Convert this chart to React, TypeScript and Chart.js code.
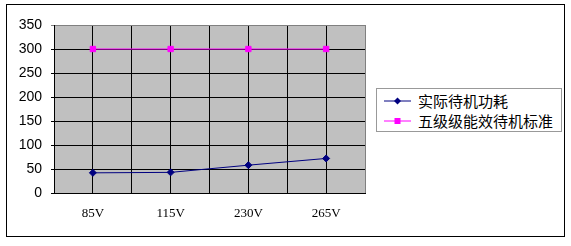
import React, { useEffect, useRef } from "react";
import { Chart, registerables } from "chart.js";

Chart.register(...registerables);

const categories = ["85V", "115V", "230V", "265V"];
const actualStandby = [42, 43, 58, 72];
const level5Standard = [300, 300, 300, 300];
const seriesNames = ["实际待机功耗", "五级级能效待机标准"];
const yTicks = { min: 0, max: 350, step: 50 };

const NAVY = "#000080";
const MAGENTA = "#FF00FF";

const plotBg = {
  id: "plotBg",
  beforeDraw(chart: any) {
    const { ctx, chartArea } = chart;
    ctx.save();
    ctx.fillStyle = "#C0C0C0";
    ctx.fillRect(chartArea.left, chartArea.top, chartArea.right - chartArea.left, chartArea.bottom - chartArea.top);
    ctx.restore();
  },
};

export default function App() {
  const ref = useRef<HTMLCanvasElement | null>(null);
  useEffect(() => {
    if (!ref.current) return;
    const chart = new Chart(ref.current, {
      type: "line",
      data: {
        labels: categories,
        datasets: [
          {
            label: seriesNames[0],
            data: actualStandby,
            borderColor: NAVY,
            backgroundColor: NAVY,
            borderWidth: 1,
            pointStyle: "rectRot",
            pointRadius: 3.5,
            pointBorderWidth: 1,
            xAxisID: "x",
            yAxisID: "y",
          },
          {
            label: seriesNames[1],
            data: level5Standard,
            borderColor: MAGENTA,
            backgroundColor: MAGENTA,
            borderWidth: 1,
            pointStyle: "rect",
            pointRadius: 3.8,
            pointBorderWidth: 1,
            xAxisID: "x",
            yAxisID: "y",
          },
        ],
      },
      options: {
        animation: false,
        responsive: false,
        layout: { padding: { left: 0, top: 25, right: 206, bottom: 0 } },
        plugins: { legend: { display: false }, tooltip: { enabled: false } },
        scales: {
          x: {
            type: "category",
            position: "bottom",
            offset: true,
            grid: { display: false },
            border: { display: true, color: "#000" },
            ticks: {
              color: "#000",
              padding: 5,
              font: { family: "'Liberation Serif', serif", size: 13 },
            },
            afterFit(scale: any) {
              scale.height = 53;
            },
          },
          x2: {
            type: "linear",
            position: "bottom",
            min: -0.5,
            max: 3.5,
            grid: {
              drawTicks: false,
              color: (c: any) => (c.tick && c.tick.value >= 3.5 ? "#808080" : "#000"),
            },
            border: { display: false },
            ticks: { display: false, stepSize: 0.5 },
            afterFit(scale: any) {
              scale.height = 0;
            },
          },
          y: {
            min: yTicks.min,
            max: yTicks.max,
            border: { display: true, color: "#000" },
            grid: {
              tickLength: 3,
              color: (c: any) => (c.tick && c.tick.value >= 350 ? "#808080" : "#000"),
            },
            ticks: {
              stepSize: yTicks.step,
              color: "#000",
              padding: 9,
              font: { family: "'Liberation Sans', Arial, sans-serif", size: 14 },
            },
            afterFit(scale: any) {
              scale.width = 54;
            },
          },
        },
      },
      plugins: [plotBg],
    });
    return () => chart.destroy();
  }, []);

  const legendRow = (name: string, color: string, square: boolean) => (
    <div style={{ display: "flex", alignItems: "center", height: 20 }}>
      <svg width={30} height={10} style={{ marginLeft: 6, marginRight: 5 }}>
        <line x1={1} y1={5} x2={28} y2={5} stroke={color} strokeWidth={1} />
        {square ? (
          <rect x={11.5} y={2} width={6} height={6} fill={color} />
        ) : (
          <polygon points="14.5,1.5 18,5 14.5,8.5 11,5" fill={color} />
        )}
      </svg>
      <span style={{ fontFamily: "'Noto Sans CJK SC', sans-serif", fontSize: 15, color: "#000", lineHeight: "20px" }}>
        {name}
      </span>
    </div>
  );

  return (
    <div style={{ position: "absolute", left: 0, top: 0, width: 571, height: 246, background: "#fff" }}>
      <div
        style={{
          position: "absolute",
          left: 6,
          top: 4,
          width: 559,
          height: 233,
          border: "1px solid #000",
          boxSizing: "border-box",
        }}
      />
      <canvas ref={ref} width={571} height={246} style={{ position: "absolute", left: 0, top: 0, width: 571, height: 246 }} />
      <div
        style={{
          position: "absolute",
          left: 376,
          top: 88,
          width: 186,
          height: 44,
          border: "1px solid #999",
          boxSizing: "border-box",
          background: "#fff",
          paddingTop: 2,
        }}
      >
        {legendRow(seriesNames[0], NAVY, false)}
        {legendRow(seriesNames[1], MAGENTA, true)}
      </div>
    </div>
  );
}
